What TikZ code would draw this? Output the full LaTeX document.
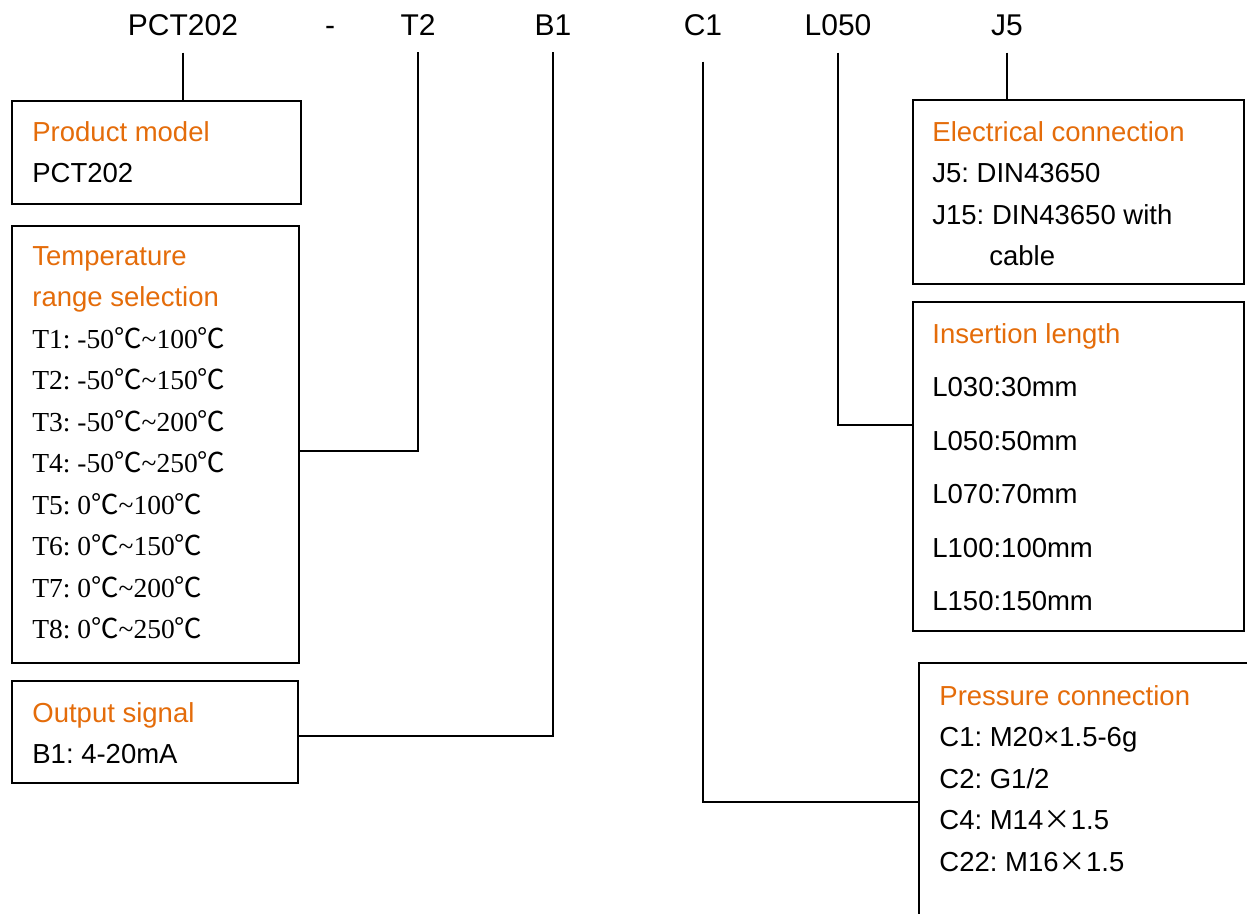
\documentclass[tikz,border=0pt]{standalone}
\usepackage{fontspec}
\setmainfont{Liberation Sans}
\newfontfamily\serifT{Liberation Serif}
\newfontfamily\cjk{Noto Sans CJK SC}
\definecolor{titleorange}{RGB}{228,108,10}
\newcommand{\degC}{{\cjk ℃}}
\newcommand{\wx}{{\cjk ×}}
\newcommand{\rng}{\textasciitilde}
\newcommand{\ttl}[1]{\textcolor{titleorange}{#1}}
\frenchspacing

\begin{document}
\begin{tikzpicture}[x=0.5pt,y=-0.5pt]
    \tikzset{
        box/.style = {draw, line width=1pt, anchor=north west, inner sep=0pt},
        code/.style = {anchor=base, inner sep=0pt, font=\fontsize{15}{18}\selectfont},
        entry/.style = {anchor=north west, align=left, inner sep=0pt, font=\fontsize{13.75}{20.75}\selectfont},
        wire/.style = {line width=1pt},
    }
    \useasboundingbox (0,0) rectangle (1247,914);

    \node[code] (PCT) at (183,36) {PCT202};
    \node[code] (Dash) at (330,36) {-};
    \node[code] (T2) at (418,36) {T2};
    \node[code] (B1) at (553,36) {B1};
    \node[code] (C1) at (703,36) {C1};
    \node[code] (L050) at (838,36) {L050};
    \node[code] (J5) at (1007,36) {J5};

    \node[box, minimum width=144.5pt, minimum height=51.5pt] (Model) at (11,100) {};
    \node[box, minimum width=143.5pt, minimum height=218.5pt] (Temp) at (11,225) {};
    \node[box, minimum width=143pt, minimum height=51pt] (Output) at (11,680) {};
    \node[box, minimum width=165.5pt, minimum height=92pt] (Elec) at (912,99) {};
    \node[box, minimum width=165.5pt, minimum height=164.5pt] (Insert) at (912,301) {};
    \node[box, minimum width=176pt, minimum height=139pt] (Press) at (918,662) {};

    \node[entry] (ModelText) at (32,121) {\ttl{Product model}\\PCT202};
    \node[entry] (TempText) at (32,246) {\ttl{Temperature}\\\ttl{range selection}\\
        {\serifT T1: -50\degC\rng 100\degC}\\
        {\serifT T2: -50\degC\rng 150\degC}\\
        {\serifT T3: -50\degC\rng 200\degC}\\
        {\serifT T4: -50\degC\rng 250\degC}\\
        {\serifT T5: 0\degC\rng 100\degC}\\
        {\serifT T6: 0\degC\rng 150\degC}\\
        {\serifT T7: 0\degC\rng 200\degC}\\
        {\serifT T8: 0\degC\rng 250\degC}};
    \node[entry] (OutText) at (32,702) {\ttl{Output signal}\\B1: 4-20mA};
    \node[entry] (ElecText) at (932,121) {\ttl{Electrical connection}\\J5: DIN43650\\J15: DIN43650 with\\\hspace*{28.5pt}cable};
    \node[entry, font=\fontsize{13.75}{26.75}\selectfont] (InsText) at (932,323)
        {\ttl{Insertion length}\\L030:30mm\\L050:50mm\\L070:70mm\\L100:100mm\\L150:150mm};
    \node[entry] (PressText) at (939,685) {\ttl{Pressure connection}\\C1: M20×1.5-6g\\C2: G1/2\\C4: M14\wx 1.5\\C22: M16\wx 1.5};

    \draw[wire] ([yshift=-8pt]PCT.south) -- (PCT.south |- Model.north);
    \draw[wire] ([yshift=-8pt]T2.south) |- ([yshift=-3.25pt]Temp.east);
    \draw[wire] ([yshift=-8pt]B1.south) |- ([yshift=-2pt]Output.east);
    \draw[wire] ([yshift=-12.5pt]C1.south) |- (Press.west);
    \draw[wire] ([yshift=-8pt]L050.south) |- ([yshift=20.75pt]Insert.west);
    \draw[wire] ([yshift=-8pt]J5.south) -- (J5.south |- Elec.north);
\end{tikzpicture}
\end{document}
